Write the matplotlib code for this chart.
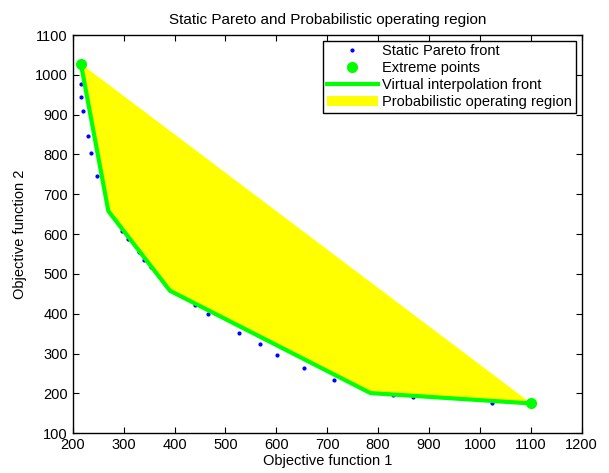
import matplotlib
matplotlib.use("Agg")
import matplotlib.pyplot as plt

plt.rcParams["font.family"] = ["Liberation Sans", "DejaVu Sans"]

# static Pareto front (visible dots)
pareto_x = [216, 217, 221, 230, 236, 248, 297, 308, 330, 341, 354,
            440, 466, 527, 567, 602, 655, 713, 829, 869, 1024]
pareto_y = [976, 945, 908, 846, 803, 746, 609, 588, 554, 535, 518,
            421, 400, 353, 323, 297, 263, 235, 195, 190, 175]

# extreme points of the virtual interpolation front
extreme_x = [216, 270, 391, 785, 1101]
extreme_y = [1028, 658, 458, 201, 175]

fig = plt.figure(figsize=(6.09, 4.73), dpi=100)
ax = fig.add_axes([0.1194, 0.0839, 0.8358, 0.8421])

ax.plot(pareto_x, pareto_y, ".", color="#0000FF", markersize=4,
        label="Static Pareto front", zorder=1)
ax.fill(extreme_x, extreme_y, color="#FFFF00", linewidth=0,
        label="Probabilistic operating region", zorder=2)
ax.plot(extreme_x, extreme_y, "-", color="#00FF00", linewidth=3,
        label="Virtual interpolation front", zorder=3)
ax.plot([extreme_x[0], extreme_x[-1]], [extreme_y[0], extreme_y[-1]], "o",
        color="#00FF00", markersize=7, label="Extreme points", zorder=4)

ax.set_xlim(200, 1200)
ax.set_ylim(100, 1100)
ax.set_xticks(range(200, 1201, 100))
ax.set_yticks(range(100, 1101, 100))
ax.tick_params(direction="in", top=True, right=True, labelsize=10.5, length=4)
for s in ax.spines.values():
    s.set_linewidth(1.0)

ax.set_xlabel("Objective function 1", fontsize=10.5, labelpad=1)
ax.set_ylabel("Objective function 2", fontsize=10.5, labelpad=6)
ax.set_title("Static Pareto and Probabilistic operating region", fontsize=11, pad=8)

h, l = ax.get_legend_handles_labels()
order = [0, 3, 2, 1]
leg = ax.legend([h[i] for i in order], [l[i] for i in order], loc="upper right",
                fontsize=10.5, fancybox=False, framealpha=1, edgecolor="black",
                handlelength=3.5, borderpad=0.25, labelspacing=0.2,
                handletextpad=0.3, borderaxespad=0.4)
leg.get_frame().set_linewidth(1.0)

fig.savefig("out.png", dpi=100)
